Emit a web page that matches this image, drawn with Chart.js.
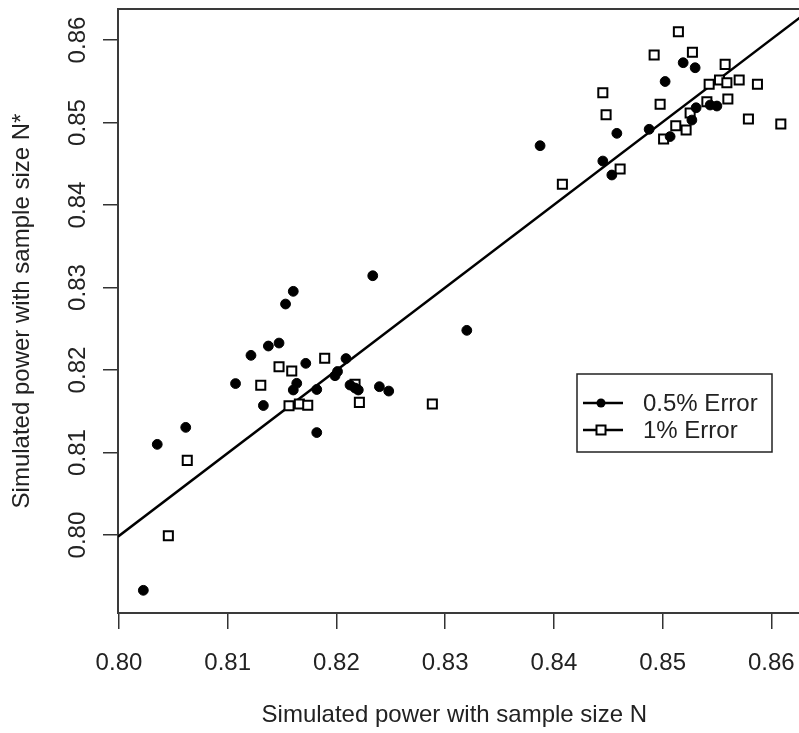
<!DOCTYPE html>
<html lang="en">
<head>
  <meta charset="UTF-8" />
  <title>Simulated power N vs N*</title>
  <style>
    html, body { margin: 0; padding: 0; background: #fff; overflow: hidden; }
    #wrap { width: 799px; height: 733px; }
  </style>
</head>
<body>
  <div id="wrap"><canvas id="powerChart" width="799" height="733"></canvas></div>

  <script src="https://cdn.jsdelivr.net/npm/chart.js"></script>
  <script>
    // 0.5% error points (power with N, power with N*)
    const err05X = [0.80224, 0.80352, 0.80614, 0.81072, 0.81214, 0.81328, 0.81374, 0.81472, 0.81532, 0.81603,
                    0.81635, 0.81603, 0.81718, 0.81819, 0.81819, 0.81987, 0.82010, 0.82088, 0.82125, 0.82171,
                    0.82201, 0.82395, 0.82481, 0.82334, 0.83199, 0.83873, 0.84450, 0.84533, 0.84579, 0.84876,
                    0.85023, 0.85069, 0.85189, 0.85299, 0.85269, 0.85308, 0.85437, 0.85499];
    const err05Y = [0.79330, 0.81099, 0.81305, 0.81836, 0.82178, 0.81570, 0.82291, 0.82327, 0.82800, 0.82954,
                    0.81839, 0.81758, 0.82081, 0.81764, 0.81242, 0.81931, 0.81982, 0.82139, 0.81818, 0.81782,
                    0.81758, 0.81798, 0.81745, 0.83143, 0.82481, 0.84719, 0.84533, 0.84364, 0.84869, 0.84918,
                    0.85497, 0.84830, 0.85725, 0.85664, 0.85030, 0.85179, 0.85212, 0.85200];

    // 1% error points
    const err1X = [0.80454, 0.80628, 0.81304, 0.81472, 0.81589, 0.81892, 0.81564, 0.81659, 0.81736, 0.82171,
                   0.82211, 0.82882, 0.84078, 0.84450, 0.84480, 0.84609, 0.84922, 0.84977, 0.85009, 0.85121,
                   0.85145, 0.85216, 0.85274, 0.85253, 0.85575, 0.85428, 0.85523, 0.85591, 0.85704, 0.85872,
                   0.85600, 0.85407, 0.85789, 0.86087];
    const err1Y = [0.79992, 0.80905, 0.81815, 0.82040, 0.81988, 0.82142, 0.81567, 0.81588, 0.81572, 0.81827,
                   0.81608, 0.81588, 0.84251, 0.85361, 0.85095, 0.84436, 0.85818, 0.85221, 0.84800, 0.84961,
                   0.86101, 0.84909, 0.85851, 0.85115, 0.85705, 0.85463, 0.85515, 0.85482, 0.85515, 0.85463,
                   0.85285, 0.85252, 0.85042, 0.84982];

    // fitted line end points
    const fitX = [0.7999, 0.8628];
    const fitY = [0.7998, 0.8629];

    const seriesNames = ['0.5% Error', '1% Error'];
    const tickValues = [0.80, 0.81, 0.82, 0.83, 0.84, 0.85, 0.86];
    const xTitle = 'Simulated power with sample size N';
    const yTitle = 'Simulated power with sample size N*';

    const FONT = "'Liberation Sans', Arial, sans-serif";
    const toPts = (xs, ys) => xs.map((x, i) => ({ x: x, y: ys[i] }));

    // box continued to the page edge, rotated y labels and legend, like base R graphics
    const extras = {
      id: 'extras',
      afterDraw(chart) {
        const c = chart.ctx;
        const a = chart.chartArea;
        const ys = chart.scales.y;

        c.save();
        c.strokeStyle = '#3a3a3a';
        c.lineWidth = 2;
        c.beginPath();
        c.moveTo(a.left, a.top);
        c.lineTo(chart.width, a.top);
        c.moveTo(a.right - 1, a.bottom);
        c.lineTo(chart.width, a.bottom);
        c.stroke();

        c.fillStyle = '#222';
        c.font = '24px ' + FONT;
        c.textAlign = 'center';
        c.textBaseline = 'middle';
        tickValues.forEach(v => {
          const py = ys.getPixelForValue(v);
          c.save();
          c.translate(78, py);
          c.rotate(-Math.PI / 2);
          c.fillText(v.toFixed(2), 0, 0);
          c.restore();
        });

        // legend
        const bx = 577, by = 374, bw = 195, bh = 78;
        c.fillStyle = '#fff';
        c.fillRect(bx, by, bw, bh);
        c.strokeStyle = '#222';
        c.lineWidth = 1.5;
        c.strokeRect(bx, by, bw, bh);

        const rows = [403, 430];
        rows.forEach((ry, i) => {
          c.strokeStyle = '#000';
          c.lineWidth = 2.5;
          c.beginPath();
          c.moveTo(583, ry);
          c.lineTo(623, ry);
          c.stroke();
          if (i === 0) {
            c.fillStyle = '#000';
            c.beginPath();
            c.arc(601, ry, 4.5, 0, 2 * Math.PI);
            c.fill();
          } else {
            c.fillStyle = '#fff';
            c.fillRect(596.5, ry - 4.5, 9, 9);
            c.lineWidth = 2;
            c.strokeRect(596.5, ry - 4.5, 9, 9);
          }
          c.fillStyle = '#222';
          c.textAlign = 'left';
          c.font = '24px ' + FONT;
          c.fillText(seriesNames[i], 643, ry + 1);
        });
        c.restore();
      }
    };

    const ctx = document.getElementById('powerChart').getContext('2d');
    const chart = new Chart(ctx, {
      type: 'scatter',
      data: {
        datasets: [
          {
            label: seriesNames[0],
            data: toPts(err05X, err05Y),
            pointStyle: 'circle',
            pointRadius: 4.9,
            borderWidth: 1,
            borderColor: '#000',
            backgroundColor: '#000'
          },
          {
            label: seriesNames[1],
            data: toPts(err1X, err1Y),
            pointStyle: 'rect',
            pointRadius: 6.4,
            borderWidth: 2,
            borderColor: '#000',
            backgroundColor: '#fff'
          },
          {
            type: 'line',
            label: 'fit',
            data: toPts(fitX, fitY),
            borderColor: '#000',
            borderWidth: 2.5,
            pointRadius: 0,
            fill: false,
            clip: { left: 0, top: 0, right: 12, bottom: 0 }
          }
        ]
      },
      options: {
        responsive: false,
        animation: false,
        layout: { padding: { top: 9, right: 0, left: 0, bottom: 0 } },
        plugins: {
          legend: { display: false },
          tooltip: { enabled: false }
        },
        scales: {
          x: {
            type: 'linear',
            min: 0.79991,
            max: 0.86177,
            afterFit(scale) {
              scale.height = 120;
              scale.paddingLeft = 0;
              scale.paddingRight = 0;
            },
            border: { display: true, color: '#3a3a3a', width: 2 },
            grid: { drawOnChartArea: false, drawTicks: true, tickLength: 16, color: '#333', lineWidth: 1.5 },
            ticks: {
              stepSize: 0.01,
              includeBounds: false,
              padding: 20,
              color: '#222',
              font: { family: FONT, size: 24 },
              maxRotation: 0,
              callback: v => v.toFixed(2)
            },
            title: {
              display: true,
              text: xTitle,
              color: '#222',
              font: { family: FONT, size: 24 },
              padding: { top: 0, bottom: 3 }
            }
          },
          y: {
            type: 'linear',
            min: 0.79055,
            max: 0.86376,
            afterFit(scale) {
              scale.width = 118;
              scale.paddingTop = 0;
              scale.paddingBottom = 0;
            },
            border: { display: true, color: '#3a3a3a', width: 2 },
            grid: { drawOnChartArea: false, drawTicks: true, tickLength: 15, color: '#333', lineWidth: 1.5 },
            ticks: {
              stepSize: 0.01,
              includeBounds: false,
              display: false
            },
            title: {
              display: true,
              text: yTitle,
              color: '#222',
              font: { family: FONT, size: 24 },
              padding: { top: 8, bottom: 0 }
            }
          }
        }
      },
      plugins: [extras]
    });
  </script>
</body>
</html>
